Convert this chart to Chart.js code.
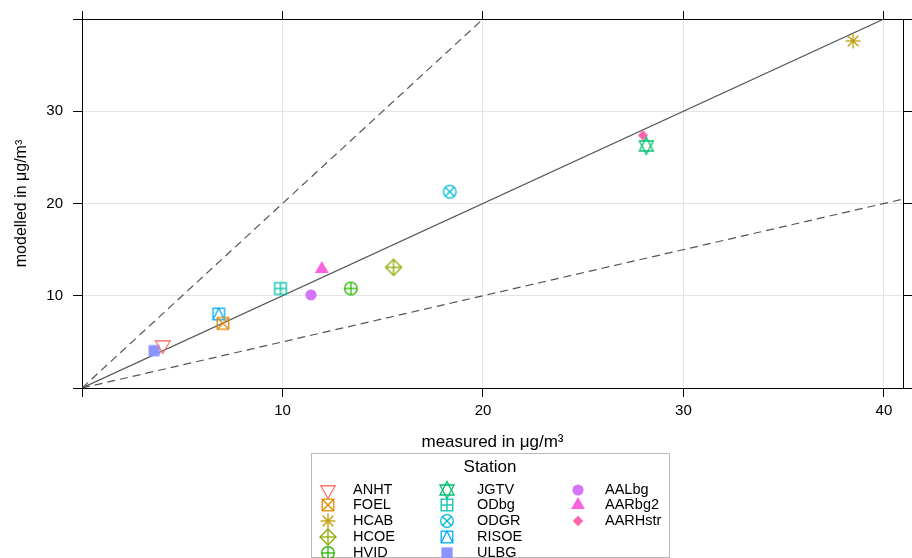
<!DOCTYPE html>
<html>
<head>
<meta charset="utf-8">
<script src="https://cdn.jsdelivr.net/npm/chart.js@4/dist/chart.umd.min.js"></script>
<style>
  html, body { margin: 0; padding: 0; background: #fff; }
  #wrap { width: 912px; height: 558px; }
</style>
</head>
<body>
<div id="wrap"><canvas id="chart"></canvas></div>
<script>
// station data
const stations = ['ANHT', 'FOEL', 'HCAB', 'HCOE', 'HVID', 'JGTV', 'ODbg', 'ODGR', 'RISOE', 'ULBG', 'AALbg', 'AARbg2', 'AARHstr']
const measured = [4.03, 7.03, 38.46, 15.54, 13.41, 28.15, 9.9, 18.34, 6.82, 3.6, 11.42, 11.96, 27.98]
const modelled = [4.66, 7.0, 37.62, 13.08, 10.79, 26.24, 10.78, 21.28, 8.02, 4.05, 10.09, 12.9, 27.38]

// reference lines (1:1, 2:1, 1:2)
const lineOneToOne = [[0, 0], [40, 40]]
const lineTwoToOne = [[0, 0], [20, 40]]
const lineOneToTwo = [[0, 0], [40.95, 20.475]]

const xMax = 40.95
const yMax = 40
const xTicks = [0, 10, 20, 30, 40]
const xTickLabels = ['', '10', '20', '30', '40']
const yTicks = [0, 10, 20, 30, 40]
const yTickLabels = ['', '10', '20', '30', '']

const colors = ['#F8766D', '#E18A00', '#BE9C00', '#8CAB00', '#24B700', '#00BE70', '#00C1AB', '#00BBDA', '#00ACFC', '#8B93FF', '#D575FE', '#F962DD', '#FF65AC']
const symbols = [6, 7, 8, 9, 10, 11, 12, 13, 14, 15, 16, 17, 18]

const FONT = "'Liberation Sans', Arial, sans-serif"

// draw an R-style plotting symbol into a small canvas
function makeSymbol (pch, color) {
  const c = document.createElement('canvas')
  c.width = 26
  c.height = 26
  const g = c.getContext('2d')
  g.translate(13, 13)
  g.strokeStyle = color
  g.fillStyle = color
  g.lineWidth = 1.3
  const s = 5.8
  const line = (x1, y1, x2, y2) => { g.beginPath(); g.moveTo(x1, y1); g.lineTo(x2, y2); g.stroke() }
  const tri = (R, down) => {
    const k = down ? 1 : -1
    g.beginPath()
    g.moveTo(0, k * R)
    g.lineTo(R * 0.866, -k * R / 2)
    g.lineTo(-R * 0.866, -k * R / 2)
    g.closePath()
  }
  switch (pch) {
    case 6:
      tri(8.5, true); g.stroke(); break
    case 7:
      g.strokeRect(-s, -s, 2 * s, 2 * s); line(-s, -s, s, s); line(-s, s, s, -s); break
    case 8:
      line(-7.5, 0, 7.5, 0); line(0, -7.5, 0, 7.5); line(-5.3, -5.3, 5.3, 5.3); line(-5.3, 5.3, 5.3, -5.3); break
    case 9:
      g.beginPath(); g.moveTo(0, -8); g.lineTo(8, 0); g.lineTo(0, 8); g.lineTo(-8, 0); g.closePath(); g.stroke()
      line(-8, 0, 8, 0); line(0, -8, 0, 8); break
    case 10:
      g.beginPath(); g.arc(0, 0, 6.3, 0, Math.PI * 2); g.stroke()
      line(-6.3, 0, 6.3, 0); line(0, -6.3, 0, 6.3); break
    case 11:
      g.beginPath(); g.moveTo(0, -8.5); g.lineTo(7, 5); g.lineTo(-7, 5); g.closePath(); g.stroke()
      g.beginPath(); g.moveTo(0, 8.5); g.lineTo(7, -5); g.lineTo(-7, -5); g.closePath(); g.stroke(); break
    case 12:
      g.strokeRect(-s, -s, 2 * s, 2 * s); line(-s, 0, s, 0); line(0, -s, 0, s); break
    case 13:
      g.beginPath(); g.arc(0, 0, 6.3, 0, Math.PI * 2); g.stroke()
      line(-4.45, -4.45, 4.45, 4.45); line(-4.45, 4.45, 4.45, -4.45); break
    case 14:
      g.strokeRect(-s, -s, 2 * s, 2 * s)
      g.beginPath(); g.moveTo(-s, s); g.lineTo(0, -s); g.lineTo(s, s); g.stroke(); break
    case 15:
      g.fillRect(-5.6, -5.6, 11.2, 11.2); break
    case 16:
      g.beginPath(); g.arc(0, 0, 5.6, 0, Math.PI * 2); g.fill(); break
    case 17:
      tri(8, false); g.fill(); break
    case 18:
      g.beginPath(); g.moveTo(0, -5.2); g.lineTo(5.2, 0); g.lineTo(0, 5.2); g.lineTo(-5.2, 0); g.closePath(); g.fill(); break
  }
  return c
}

const symbolCanvases = stations.map((s, i) => makeSymbol(symbols[i], colors[i]))

const pointSets = stations.map((name, i) => ({
  type: 'scatter',
  label: name,
  data: [{ x: measured[i], y: modelled[i] }],
  pointStyle: symbolCanvases[i],
  pointRadius: 7,
  order: 1
}))

function refLine (pts, dash, label) {
  return {
    type: 'line',
    label: label,
    data: pts.map(p => ({ x: p[0], y: p[1] })),
    borderColor: '#555555',
    borderWidth: 1.2,
    borderDash: dash,
    pointRadius: 0,
    fill: false,
    order: 2
  }
}

const refSets = [
  refLine(lineOneToOne, [], '1:1'),
  refLine(lineTwoToOne, [8, 5], '2:1'),
  refLine(lineOneToTwo, [8, 5], '1:2')
]

// key box below the plot, in columns like the original
const stationKey = {
  id: 'stationKey',
  afterDraw (chart) {
    const ctx = chart.ctx
    ctx.save()
    ctx.strokeStyle = '#b8b8b8'
    ctx.lineWidth = 1
    ctx.strokeRect(311.5, 453.5, 358, 104)
    ctx.fillStyle = '#000'
    ctx.font = '17px ' + FONT
    ctx.textAlign = 'center'
    ctx.textBaseline = 'middle'
    ctx.fillText('Station', 490, 467)
    ctx.font = '14.5px ' + FONT
    ctx.textAlign = 'left'
    const colSym = [328, 447, 578]
    const colText = [353, 477, 605]
    stations.forEach((name, i) => {
      const col = Math.floor(i / 5)
      const row = i % 5
      const y = 489.5 + row * 15.75
      const img = symbolCanvases[i]
      ctx.drawImage(img, colSym[col] - img.width / 2, Math.round(y) - img.height / 2)
      ctx.fillText(name, colText[col], y)
    })
    ctx.restore()
  }
}

const tickFont = { family: FONT, size: 15 }
const gridColor = c => (c.tick && (c.tick.value === 0 || c.tick.value === yMax && c.scale.axis === 'y')) ? 'rgba(0,0,0,0)' : '#e4e4e4'

new Chart(document.getElementById('chart').getContext('2d'), {
  data: { datasets: refSets.concat(pointSets) },
  options: {
    responsive: true,
    maintainAspectRatio: false,
    animation: false,
    layout: { padding: { left: 0, right: 0, top: 0, bottom: 105 } },
    plugins: {
      legend: { display: false },
      tooltip: { enabled: true }
    },
    scales: {
      x: {
        type: 'linear',
        position: 'bottom',
        min: 0,
        max: xMax,
        afterBuildTicks: s => { s.ticks = xTicks.map(v => ({ value: v })) },
        afterFit: s => { s.height = 65 },
        ticks: {
          callback: (v, i) => xTickLabels[i],
          font: tickFont,
          color: '#000',
          padding: 5,
          maxRotation: 0,
          autoSkip: false
        },
        grid: { color: gridColor, tickColor: '#000', tickLength: 9, lineWidth: 1 },
        border: { display: true, color: '#000', width: 1 },
        title: {
          display: true,
          text: 'measured in \u03bcg/m\u00b3',
          font: { family: FONT, size: 17 },
          color: '#000',
          padding: { top: 4, bottom: 0 }
        }
      },
      y: {
        type: 'linear',
        position: 'left',
        min: 0,
        max: yMax,
        afterBuildTicks: s => { s.ticks = yTicks.map(v => ({ value: v })) },
        afterFit: s => { s.width = 82 },
        ticks: {
          callback: (v, i) => yTickLabels[i],
          font: tickFont,
          color: '#000',
          padding: 10,
          autoSkip: false
        },
        grid: { color: gridColor, tickColor: '#000', tickLength: 9, lineWidth: 1 },
        border: { display: true, color: '#000', width: 1 },
        title: {
          display: true,
          text: 'modelled in \u03bcg/m\u00b3',
          font: { family: FONT, size: 16 },
          color: '#000',
          padding: { top: 12, bottom: 0 }
        }
      },
      x2: {
        type: 'linear',
        position: 'top',
        display: true,
        min: 0,
        max: xMax,
        afterBuildTicks: s => { s.ticks = xTicks.map(v => ({ value: v })) },
        afterFit: s => { s.height = 18 },
        ticks: { display: false },
        grid: { drawOnChartArea: false, tickColor: '#000', tickLength: 8 },
        border: { display: true, color: '#000', width: 1 }
      },
      y2: {
        type: 'linear',
        position: 'right',
        display: true,
        min: 0,
        max: yMax,
        afterBuildTicks: s => { s.ticks = yTicks.map(v => ({ value: v })) },
        afterFit: s => { s.width = 9 },
        ticks: { display: false },
        grid: { drawOnChartArea: false, tickColor: '#000', tickLength: 9 },
        border: { display: true, color: '#000', width: 1 }
      }
    }
  },
  plugins: [stationKey]
})
</script>
</body>
</html>
